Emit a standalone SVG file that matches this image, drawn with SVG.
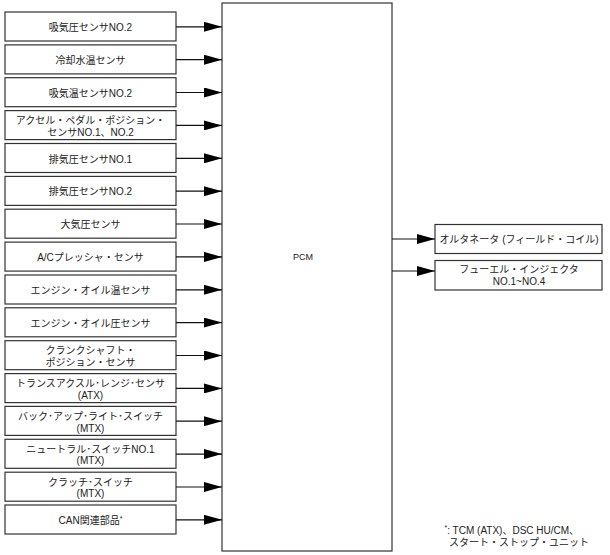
<svg xmlns="http://www.w3.org/2000/svg" width="610" height="555" viewBox="0 0 610 555">
<style>
.box{fill:#fff;stroke:#333;stroke-width:1.2}
.t{font-family:"Liberation Sans","Noto Sans CJK JP",sans-serif;font-size:10px;fill:#222;text-anchor:middle}
.fn{font-family:"Liberation Sans","Noto Sans CJK JP",sans-serif;font-size:10px;fill:#222}
.c{stroke:#111;stroke-width:1.2;fill:none;marker-end:url(#ah)}
</style>
<defs>
<marker id="ah" markerUnits="userSpaceOnUse" markerWidth="18" markerHeight="10" refX="18" refY="5" orient="auto">
<path d="M0,0 L18,5 L0,10 Z" fill="#000"/>
</marker>
</defs>
<rect width="610" height="555" fill="#fff"/>
<g id="pcm"><rect class="box" x="222" y="3" width="170" height="548"/><text class="t" x="303" y="260" style="font-size:9px">PCM</text></g>
<g id="n1"><rect class="box" x="5" y="12" width="171" height="29"/><text class="t" x="90.5" y="31">吸気圧センサNO.2</text></g>
<g id="n2"><rect class="box" x="5" y="44.9" width="171" height="29"/><text class="t" x="90.5" y="63.9">冷却水温センサ</text></g>
<g id="n3"><rect class="box" x="5" y="77.7" width="171" height="29"/><text class="t" x="90.5" y="96.7">吸気温センサNO.2</text></g>
<g id="n4"><rect class="box" x="5" y="110.6" width="171" height="29"/><text class="t" x="90.5" y="124">アクセル・ペダル・ポジション・</text><text class="t" x="90.5" y="135.6">センサNO.1、NO.2</text></g>
<g id="n5"><rect class="box" x="5" y="143.5" width="171" height="29"/><text class="t" x="90.5" y="162.5">排気圧センサNO.1</text></g>
<g id="n6"><rect class="box" x="5" y="176.4" width="171" height="29"/><text class="t" x="90.5" y="195.4">排気圧センサNO.2</text></g>
<g id="n7"><rect class="box" x="5" y="209.2" width="171" height="29"/><text class="t" x="90.5" y="228.2">大気圧センサ</text></g>
<g id="n8"><rect class="box" x="5" y="242.1" width="171" height="29"/><text class="t" x="90.5" y="261.1">A/Cプレッシャ・センサ</text></g>
<g id="n9"><rect class="box" x="5" y="275" width="171" height="29"/><text class="t" x="90.5" y="294">エンジン・オイル温センサ</text></g>
<g id="n10"><rect class="box" x="5" y="307.8" width="171" height="29"/><text class="t" x="90.5" y="326.8">エンジン・オイル圧センサ</text></g>
<g id="n11"><rect class="box" x="5" y="340.7" width="171" height="29"/><text class="t" x="90.5" y="354.2">クランクシャフト・</text><text class="t" x="90.5" y="365.8">ポジション・センサ</text></g>
<g id="n12"><rect class="box" x="5" y="373.6" width="171" height="29"/><text class="t" x="90.5" y="387">トランスアクスル･レンジ･センサ</text><text class="t" x="90.5" y="398.6">(ATX)</text></g>
<g id="n13"><rect class="box" x="5" y="406.4" width="171" height="29"/><text class="t" x="90.5" y="419.9">バック･アップ･ライト･スイッチ</text><text class="t" x="90.5" y="431.5">(MTX)</text></g>
<g id="n14"><rect class="box" x="5" y="439.3" width="171" height="29"/><text class="t" x="90.5" y="452.8">ニュートラル･スイッチNO.1</text><text class="t" x="90.5" y="464.4">(MTX)</text></g>
<g id="n15"><rect class="box" x="5" y="472.2" width="171" height="29"/><text class="t" x="90.5" y="485.7">クラッチ･スイッチ</text><text class="t" x="90.5" y="497.3">(MTX)</text></g>
<g id="n16"><rect class="box" x="5" y="505" width="171" height="29"/><text class="t" x="90.5" y="524">CAN関連部品<tspan dy="-3" font-size="7">*</tspan></text></g>
<g id="r1"><rect class="box" x="435" y="224.5" width="167" height="29"/><text class="t" x="519" y="243">オルタネータ (フィールド・コイル)</text></g>
<g id="r2"><rect class="box" x="435" y="260.5" width="167" height="29.5"/><text class="t" x="519" y="273">フューエル・インジェクタ</text><text class="t" x="519" y="284.5">NO.1~NO.4</text></g>
<g id="connectors">
<line class="c" x1="176" y1="26.8" x2="222" y2="26.8"/>
<line class="c" x1="176" y1="59.7" x2="222" y2="59.7"/>
<line class="c" x1="176" y1="92.5" x2="222" y2="92.5"/>
<line class="c" x1="176" y1="125.4" x2="222" y2="125.4"/>
<line class="c" x1="176" y1="158.3" x2="222" y2="158.3"/>
<line class="c" x1="176" y1="191.2" x2="222" y2="191.2"/>
<line class="c" x1="176" y1="224" x2="222" y2="224"/>
<line class="c" x1="176" y1="256.9" x2="222" y2="256.9"/>
<line class="c" x1="176" y1="289.8" x2="222" y2="289.8"/>
<line class="c" x1="176" y1="322.6" x2="222" y2="322.6"/>
<line class="c" x1="176" y1="355.5" x2="222" y2="355.5"/>
<line class="c" x1="176" y1="388.4" x2="222" y2="388.4"/>
<line class="c" x1="176" y1="421.2" x2="222" y2="421.2"/>
<line class="c" x1="176" y1="454.1" x2="222" y2="454.1"/>
<line class="c" x1="176" y1="487" x2="222" y2="487"/>
<line class="c" x1="176" y1="519.8" x2="222" y2="519.8"/>
<line class="c" x1="392" y1="239" x2="435" y2="239"/>
<line class="c" x1="392" y1="271" x2="435" y2="271"/>
</g>
<g id="footnote">
<text class="fn" x="444.5" y="534"><tspan dy="-4" font-size="7">*</tspan><tspan dy="4">: TCM (ATX)、DSC HU/CM、</tspan></text>
<text class="fn" x="449" y="545.5">スタート・ストップ・ユニット</text>
</g>
</svg>
